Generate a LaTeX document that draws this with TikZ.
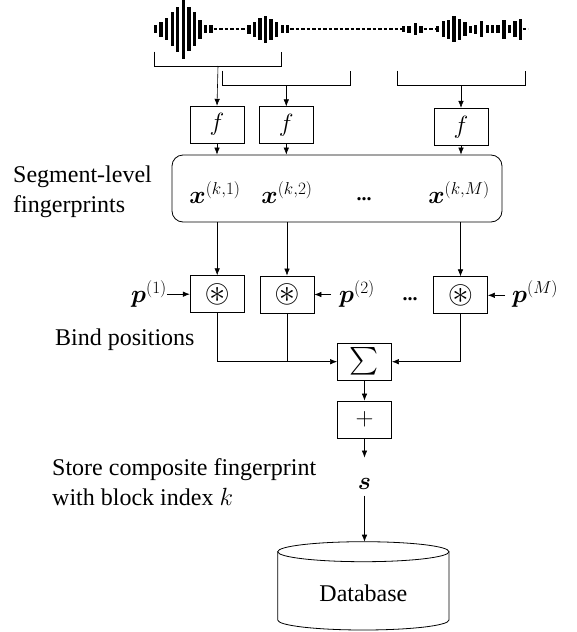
\documentclass[tikz,border=0pt]{standalone}
\usepackage{amsmath,amssymb}
\usepackage{bm}
\usepackage{fontspec}
\setmainfont{Liberation Serif}
\usetikzlibrary{arrows.meta}
\tikzset{
  blk/.style={draw, line width=0.8pt, minimum width=54pt, minimum height=37pt, inner sep=0pt, font=\fontsize{24}{28}\selectfont},
  arr/.style={-{Latex[length=7pt,width=5.5pt]}, line width=0.6pt},
  ln/.style={line width=0.6pt},
  txt/.style={inner sep=0pt, font=\fontsize{24}{30}\selectfont},
  mth/.style={inner sep=0pt, font=\fontsize{26}{30}\selectfont},
  dots/.style={inner sep=0pt, font=\fontsize{20}{24}\selectfont},
  brk/.style={line width=1pt},
  wdash/.style={line width=2.2pt, dash pattern=on 3.5pt off 2pt}
}
\newcommand{\bindsym}{\scalebox{1.35}{$\circledast$}}
\newcommand{\bigsup}[1]{\mbox{\fontsize{18}{20}\selectfont$#1$}}
\begin{document}
\begin{tikzpicture}[x=1pt,y=-1pt]
\useasboundingbox (0,0) rectangle (577,632);
% waveform
\foreach \x/\h in {155.3/4,161/7.5,166.7/11,172.3/17,177.7/22.5,183.3/30,189/22,194.3/17,200/9.7,205.7/4,211/4,
  249/4.2,254.3/7.5,260/11,265.7/13.3,271/10.3,276.7/7.5,282.3/4,287.7/4,
  403.3/3,409/3.7,415.3/6,421/3.7,
  437.7/3,443.3/8,448.3/9.7,454/13,459.3/10.5,465/7,470.7/3.7,475.7/4.7,481.7/8,487.3/4,492.7/4,498/4,504/9.7,509.3/4,515/8,520.7/10.5}
  \fill (\x-1.6,29.3-\h) rectangle (\x+1.6,29.3+\h);
\draw[wdash] (213.5,29.3) -- (247,29.3);
\draw[wdash] (290,29.3) -- (401.5,29.3);
\draw[wdash] (423.5,29.3) -- (436,29.3);
\draw[wdash] (522.5,29.3) -- (528,29.3);
% brackets
\draw[brk] (154.3,51.7) -- (154.3,66) -- (281.7,66) -- (281.7,51.7);
\draw[brk] (222.7,70.7) -- (222.7,85.7) -- (350,85.7) -- (350,70.7);
\draw[brk] (397.3,70.7) -- (397.3,85.7) -- (525,85.7) -- (525,70.7);
\coordinate (s1) at (218,66);
\coordinate (s2) at (286.3,85.7);
\coordinate (s3) at (461,85.7);
% f boxes
\node[blk] (f1) at (217,124.7) {$f$};
\node[blk] (f2) at (286.3,125.3) {$f$};
\node[blk] (f3) at (461,126.8) {$f$};
\draw[arr] (s1) -- (f1.north);
\draw[arr] (s2) -- (f2.north);
\draw[arr] (s3) -- (f3.north);
% fingerprint container
\node[draw, line width=0.8pt, rounded corners=11pt, minimum width=330pt, minimum height=67pt, inner sep=0pt] (fp) at (337,188.5) {};
\node[mth] (x1) at (215,193) {$\bm{x}^{\bigsup{(k{,}1)}}$};
\node[mth] (x2) at (287,193) {$\bm{x}^{\bigsup{(k{,}2)}}$};
\node[dots] (xd) at (364,199) {\textbf{...}};
\node[mth] (xM) at (459,193) {$\bm{x}^{\bigsup{(k{,}M)}}$};
\draw[arr] (f1.south) -- (f1.south |- fp.north);
\draw[arr] (f2.south) -- (f2.south |- fp.north);
\draw[arr] (f3.south) -- (f3.south |- fp.north);
\node[txt, anchor=west, align=left] (seg) at (13,192) {Segment-level\\fingerprints};
% bind boxes
\node[blk] (b1) at (217.2,294.2) {\bindsym};
\node[blk] (b2) at (287,294.5) {\bindsym};
\node[blk] (b3) at (460.5,295.3) {\bindsym};
\draw[arr] (fp.south -| b1) -- (b1.north);
\draw[arr] (fp.south -| b2) -- (b2.north);
\draw[arr] (fp.south -| b3) -- (b3.north);
\node[mth, anchor=east] (p1) at (167,294) {$\bm{p}^{\bigsup{(1)}}$};
\node[mth, anchor=west] (p2) at (339,294) {$\bm{p}^{\bigsup{(2)}}$};
\node[dots] (pd) at (410,299) {\textbf{...}};
\node[mth, anchor=west] (pM) at (512,294) {$\bm{p}^{\bigsup{(M)}}$};
\draw[arr] (p1.east |- b1.west) -- (b1.west);
\draw[arr] (p2.west |- b2.east) ++(-8,0) -- (b2.east);
\draw[arr] (pM.west |- b3.east) ++(-7,0) -- (b3.east);
\node[txt, anchor=west] (bind) at (55,340) {Bind positions};
% sum and plus
\node[blk, minimum height=36.7pt] (sum) at (364.5,361.7) {\scalebox{1.15}{$\sum$}};
\node[blk] (plus) at (364.5,419.5) {$+$};
\draw[ln] (b1.south) |- (b2.south |- sum.west);
\draw[arr] (b2.south) |- (sum.west);
\draw[arr] (b3.south) |- (sum.east);
\draw[arr] (sum.south) -- (plus.north);
\node[mth] (s) at (364.5,484) {$\bm{s}$};
\draw[arr] (plus.south) -- (364.5,457.5);
\node[txt, anchor=west, align=left] (store) at (52,482.5) {Store composite fingerprint\\with block index $k$};
% database
\draw[line width=0.8pt] (277.7,551.7) -- (277.7,620) arc[start angle=180, end angle=0, x radius=85.65, y radius=10] -- (449,551.7);
\draw[line width=0.8pt] (363.35,551.7) ellipse[x radius=85.65, y radius=10];
\coordinate (dbtop) at (364.5,541.7);
\node[txt] (db) at (363.4,593) {Database};
\draw[arr] (s.south) ++(0,6) -- (dbtop);
\end{tikzpicture}
\end{document}
